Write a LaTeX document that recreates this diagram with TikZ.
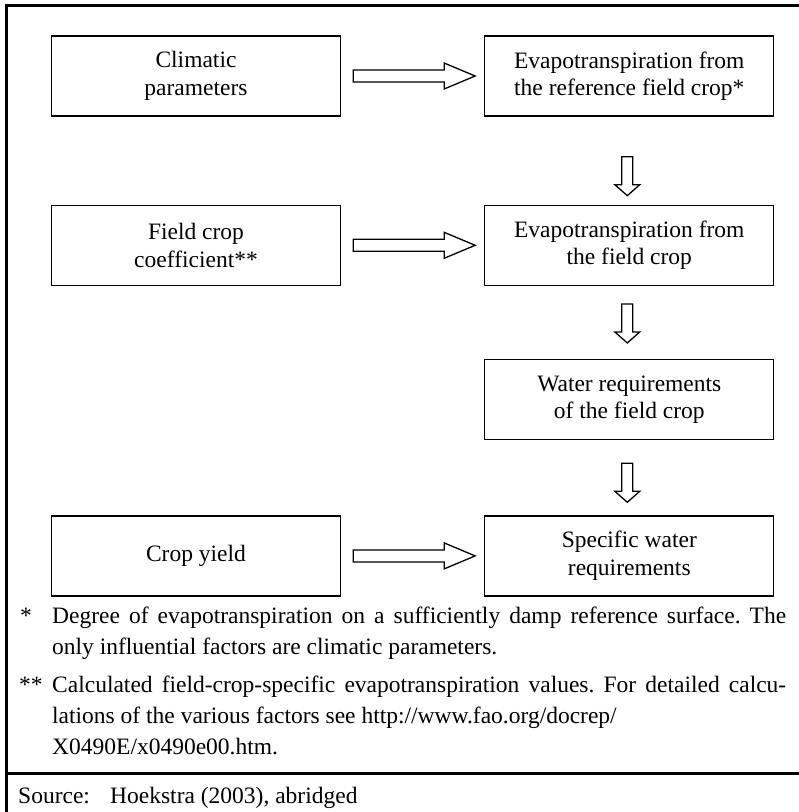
\documentclass[tikz,border=0pt]{standalone}
\usepackage{fontspec}
\setmainfont{Liberation Serif}
\usetikzlibrary{calc,positioning}

\tikzset{
  box/.style={draw, line width=1.3pt, minimum width=289pt, minimum height=80pt,
    inner sep=0pt, align=center, font=\fontsize{23.5}{27.5}\selectfont},
  hollow/.style={draw, line width=1.3pt, fill=white, line join=miter},
  frame/.style={line width=3pt},
  note/.style={anchor=base west, inner sep=0pt, font=\fontsize{23.5}{31}\selectfont\frenchspacing},
}

% block arrow to the right, starting beside node #1
\newcommand{\hollowright}[1]{%
  \draw[hollow] ($(#1.east)+(12,-6)$) -- ++(91,0) -- ++(0,-7) -- ++(31,13)
    -- ++(-31,13) -- ++(0,-7) -- ++(-91,0) -- cycle;}
% block arrow downwards, #2 below node #1
\newcommand{\hollowdown}[2]{%
  \draw[hollow] ($(#1.south)+(-7.5,#2)$) -- ++(11,0) -- ++(0,28) -- ++(7,0)
    -- ++(-12.5,11) -- ++(-12.5,-11) -- ++(7,0) -- cycle;}

\begin{document}
\begin{tikzpicture}[x=1pt, y=-1pt]

  \useasboundingbox (0,0) rectangle (799,812);

  % Frame

  \draw[frame] (4.5,5) -- (799,5);
  \draw[frame] (6,3.5) -- (6,812);
  \draw[frame] (4.5,773) -- (799,773);

  % Nodes

  \node[box] (clim) at (196,76) {Climatic\\parameters};
  \node[box, right=143pt of clim] (etref) {Evapotranspiration from\\the reference field crop*};
  \node[box, below=88pt of clim] (coeff) {Field crop\\coefficient**};
  \node[box, right=143pt of coeff] (etcrop) {Evapotranspiration from\\the field crop};
  \node[box, below=73pt of etcrop] (water) {Water requirements\\of the field crop};
  \node[box, below=75pt of water] (spec) {Specific water\\requirements};
  \node[box, left=143pt of spec] (yield) {Crop yield};

  % Edges

  \hollowright{clim}
  \hollowright{coeff}
  \hollowright{yield}
  \hollowdown{etref}{40}
  \hollowdown{etcrop}{18}
  \hollowdown{water}{23}

  % Notes

  \node[note] (star1) at (20,623) {*};
  \node[note, text width=734pt, align=justify] (note1) at (52,623)
    {Degree of evapotranspiration on a sufficiently damp reference surface. The\linebreak
     only influential factors are climatic parameters.};
  \node[note] (star2) at (19,692) {**};
  \node[note, text width=734pt, align=justify] (note2) at (52,692)
    {Calculated field-crop-specific evapotranspiration values. For detailed calcu-\linebreak
     lations of the various factors see http://www.fao.org/docrep/\newline
     X0490E/x0490e00.htm.};
  \node[note] (srclabel) at (18,803) {Source:};
  \node[note] (srctext) at (110,803) {Hoekstra (2003), abridged};

\end{tikzpicture}
\end{document}
